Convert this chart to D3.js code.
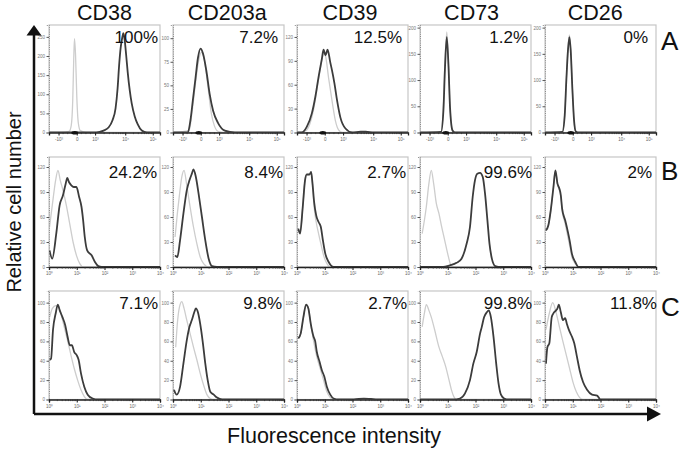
<!DOCTYPE html>
<html><head><meta charset="utf-8">
<script src="https://cdn.jsdelivr.net/npm/d3@7"></script>
<style>
body{margin:0;background:#fff}
svg{display:block}
text{font-family:"Liberation Sans",Arial,Helvetica,sans-serif}
</style>
</head><body>
<svg id="c" width="685" height="449"></svg>
<script>
// ---------- data ----------
const markers = ["CD38","CD203a","CD39","CD73","CD26"];
const rowLabels = ["A","B","C"];
const pctA = ["100%","7.2%","12.5%","1.2%","0%"];
const pctB = ["24.2%","8.4%","2.7%","99.6%","2%"];
const pctC = ["7.1%","9.8%","2.7%","99.8%","11.8%"];

const yTicksA = [[0,50,100,150,200,250],[0,25,50,75,100],[0,30,60,90,120],[0,50,100,150,200],[0,50,100,150,200]];
const yMaxA = [281,114,135,205,205];
const yTicksB = [0,30,60,90,120];
const yMaxB = 132;
const yTicksC = [0,20,40,60,80,100];
const yMaxC = 112;

const xTickLabelsA = ["-10³","0","10³","10⁴","10⁵"];
const xTickChA = [88,256,425,703,957];
const xTickLabelsBC = ["10⁰","10¹","10²","10³","10⁴"];
const xTickChBC = [0,256,512,768,1024];

// histograms: [channel, count]; ctrl = light grey, stain = dark
const A_CD38_ctrl = [[0,0],[112,0],[186,3],[205,18],[219,84],[228,190],[235,245],[245,202],[256,97],[270,26],[289,5],[344,0],[1024,0]];
const A_CD38_stain = [[0,0],[437,0],[503,5],[549,13],[586,32],[614,63],[633,116],[647,176],[661,221],[675,247],[686,260],[698,242],[712,202],[726,158],[745,110],[763,76],[791,42],[819,21],[856,5],[903,0],[1024,0]];
const A_CD203a_ctrl = [[0,0],[149,2],[177,23],[205,50],[233,74],[261,85],[289,77],[323,48],[354,20],[382,7],[419,1],[490,0],[1024,0]];
const A_CD203a_stain = [[0,0],[137,0],[161,13],[183,34],[208,58],[230,79],[254,89],[276,84],[307,66],[338,41],[370,23],[416,10],[478,2],[571,0],[1024,0]];
const A_CD39_ctrl = [[0,0],[62,1],[90,3],[152,28],[198,66],[230,91],[245,100],[263,96],[291,69],[323,40],[354,15],[385,3],[419,0],[1024,0]];
const A_CD39_stain = [[0,0],[44,0],[90,7],[137,24],[168,44],[198,69],[230,93],[245,104],[263,97],[282,104],[307,88],[323,78],[345,62],[370,40],[400,19],[447,5],[509,0],[587,1],[633,1],[708,0],[1024,0]];
const A_CD73_ctrl = [[0,0],[190,0],[214,40],[230,130],[247,192],[264,125],[279,42],[300,4],[324,0],[1024,0]];
const A_CD73_stain = [[0,0],[194,1],[216,42],[231,126],[247,182],[263,126],[277,48],[300,4],[324,0],[1024,0]];
const A_CD26_ctrl = [[0,0],[158,0],[182,34],[197,102],[212,160],[225,186],[237,160],[253,82],[268,24],[284,2],[312,0],[1024,0]];
const A_CD26_stain = [[0,0],[160,1],[182,33],[197,100],[212,157],[225,182],[237,157],[253,81],[268,23],[284,2],[312,0],[1024,0]];

const B_CD38_ctrl = [[5,48],[36,80],[61,104],[83,116],[104,104],[129,92],[160,74],[191,52],[222,30],[253,14],[284,4],[315,0],[1024,0]];
const B_CD38_stain = [[5,20],[30,10],[67,40],[98,74],[129,86],[154,100],[169,107],[184,102],[206,98],[228,96],[253,96],[278,84],[300,72],[315,56],[330,36],[352,20],[393,14],[424,6],[455,1],[486,0],[1024,0]];
const B_CD203a_ctrl = [[19,36],[40,64],[59,86],[81,108],[102,116],[127,98],[158,72],[189,48],[220,28],[251,12],[282,4],[329,0],[1024,0]];
const B_CD203a_stain = [[19,14],[40,12],[65,32],[96,64],[127,92],[152,104],[174,112],[189,117],[211,108],[236,88],[267,60],[298,32],[329,10],[360,1],[406,0],[1024,0]];
const B_CD39_ctrl = [[12,46],[28,40],[53,72],[74,104],[90,111],[115,111],[130,114],[143,100],[158,72],[177,54],[199,40],[220,28],[245,14],[276,4],[307,0],[1024,0]];
const B_CD39_stain = [[12,46],[28,40],[53,72],[74,104],[90,111],[115,111],[130,114],[143,100],[158,78],[177,62],[199,54],[220,48],[239,32],[261,16],[292,6],[338,0],[1024,0]];
const B_CD73_ctrl = [[20,40],[58,72],[82,100],[104,116],[126,100],[151,76],[175,64],[197,50],[228,32],[259,14],[290,1],[321,0],[1024,0]];
const B_CD73_stain = [[0,0],[213,0],[275,2],[337,5],[383,10],[430,28],[461,48],[486,84],[507,104],[529,112],[554,113],[579,108],[600,88],[622,56],[641,28],[663,10],[694,1],[725,0],[1024,0]];
const B_CD26_ctrl = [[9,44],[31,50],[53,68],[78,96],[96,116],[115,100],[133,92],[146,84],[158,68],[186,52],[208,38],[227,26],[248,12],[279,4],[310,0],[1024,0]];
const B_CD26_stain = [[9,44],[31,50],[53,68],[78,96],[96,116],[115,100],[133,94],[146,86],[158,70],[186,56],[208,44],[227,32],[248,16],[279,6],[310,0],[1024,0]];

const C_CD38_ctrl = [[6,85],[31,94],[62,97],[87,96],[109,89],[140,75],[171,61],[202,46],[233,32],[264,20],[295,10],[326,3],[357,0],[1024,0]];
const C_CD38_stain = [[6,41],[19,42],[37,72],[62,89],[81,98],[99,92],[124,85],[149,77],[171,65],[192,56],[211,56],[233,49],[254,46],[273,41],[295,27],[326,13],[357,5],[403,1],[450,0],[1024,0]];
const C_CD203a_ctrl = [[25,54],[43,82],[65,98],[81,101],[102,94],[127,82],[158,68],[189,54],[220,41],[251,27],[282,15],[313,5],[344,1],[376,0],[1024,0]];
const C_CD203a_stain = [[9,10],[34,5],[65,13],[96,37],[127,61],[152,75],[174,82],[196,90],[211,94],[230,90],[251,78],[276,58],[298,37],[320,20],[344,8],[376,5],[406,2],[453,0],[1024,0]];
const C_CD39_ctrl = [[12,63],[34,68],[59,85],[84,98],[105,94],[127,78],[152,61],[183,44],[214,32],[245,20],[276,8],[307,2],[338,0],[1024,0]];
const C_CD39_stain = [[12,63],[34,68],[59,85],[84,98],[105,94],[127,78],[152,65],[168,60],[183,49],[208,39],[230,30],[251,24],[276,13],[307,5],[338,1],[385,0],[524,0],[617,1],[683,0.5],[742,0],[1024,0]];
const C_CD73_ctrl = [[20,75],[42,90],[58,98],[82,92],[104,85],[135,72],[175,54],[207,44],[237,34],[268,20],[290,10],[312,3],[337,0],[1024,0]];
const C_CD73_stain = [[0,0],[306,0],[368,1],[414,6],[461,20],[492,37],[523,49],[554,68],[570,75],[591,85],[616,90],[635,92],[654,85],[678,65],[703,37],[724,17],[747,5],[777,1],[817,0],[1024,0]];
const C_CD26_ctrl = [[9,72],[40,89],[71,100],[102,90],[133,75],[165,60],[196,46],[227,32],[258,18],[289,8],[320,2],[351,0],[1024,0]];
const C_CD26_stain = [[9,37],[22,54],[40,58],[62,85],[84,90],[102,92],[115,94],[127,98],[146,90],[165,82],[186,84],[202,78],[227,70],[248,65],[270,58],[295,44],[320,30],[351,18],[388,10],[434,5],[481,4],[512,0],[1024,0]];

const zeroClusterCh = 238;

// ---------- layout ----------
const colLeft = [49,173,297,420,545];
const panelW = 111;
const rowTop = [25,157,291];
const rowBottom = [132.5,267,399.5];
const pctBaseline = [43,177.5,309];
const pctInset = [[2,6,6,3,8],[3,1,2,-1,4],[2,2,1,-1,-1]];
const rowLabelBaseline = [50,180,316];

const curves = [
  [[A_CD38_ctrl,A_CD38_stain],[A_CD203a_ctrl,A_CD203a_stain],[A_CD39_ctrl,A_CD39_stain],[A_CD73_ctrl,A_CD73_stain],[A_CD26_ctrl,A_CD26_stain]],
  [[B_CD38_ctrl,B_CD38_stain],[B_CD203a_ctrl,B_CD203a_stain],[B_CD39_ctrl,B_CD39_stain],[B_CD73_ctrl,B_CD73_stain],[B_CD26_ctrl,B_CD26_stain]],
  [[C_CD38_ctrl,C_CD38_stain],[C_CD203a_ctrl,C_CD203a_stain],[C_CD39_ctrl,C_CD39_stain],[C_CD73_ctrl,C_CD73_stain],[C_CD26_ctrl,C_CD26_stain]]
];
const pcts = [pctA,pctB,pctC];

const svg = d3.select("#c");
const defs = svg.append("defs");

rowLabels.forEach((rl, ri) => {
  markers.forEach((m, ci) => {
    const x0 = colLeft[ci], y0 = rowTop[ri], h = rowBottom[ri] - rowTop[ri];
    const g = svg.append("g").attr("transform", `translate(${x0},${y0})`);
    const x = d3.scaleLinear().domain([0,1024]).range([0,panelW]);
    const yMax = ri === 0 ? yMaxA[ci] : (ri === 1 ? yMaxB : yMaxC);
    const yTicks = ri === 0 ? yTicksA[ci] : (ri === 1 ? yTicksB : yTicksC);
    const y = d3.scaleLinear().domain([0,yMax]).range([h,0]);

    // frame
    g.append("rect").attr("x",0).attr("y",0).attr("width",panelW).attr("height",h)
      .attr("fill","none").attr("stroke","#c6c6c6").attr("stroke-width",1.2);

    const cid = `clip${ri}${ci}`;
    defs.append("clipPath").attr("id",cid).append("rect")
      .attr("x",0).attr("y",-2).attr("width",panelW).attr("height",h+2);

    const line = d3.line().x(d => x(d[0])).y(d => y(d[1])).curve(d3.curveMonotoneX);
    const [ctrl, stain] = curves[ri][ci];
    const cg = g.append("g").attr("clip-path",`url(#${cid})`);
    cg.append("path").datum(ctrl).attr("d",line).attr("fill","none")
      .attr("stroke","#cdcdcd").attr("stroke-width",1.3);
    cg.append("path").datum(stain).attr("d",line).attr("fill","none")
      .attr("stroke","#3c3c3c").attr("stroke-width",1.8).attr("stroke-linejoin","round");

    // y axis
    const ya = g.append("g").call(d3.axisLeft(y).tickValues(yTicks).tickSize(2.5).tickPadding(1.5));
    ya.select(".domain").attr("stroke","#8a8a8a").attr("stroke-dasharray","1,1.2").attr("stroke-width",1);
    ya.selectAll(".tick line").attr("stroke","#555").attr("stroke-width",1);
    ya.selectAll("text").attr("font-size",4.5).attr("fill","#777").attr("font-family","Liberation Sans, Arial");

    // x axis
    const xCh = ri === 0 ? xTickChA : xTickChBC;
    const xLab = ri === 0 ? xTickLabelsA : xTickLabelsBC;
    const xa = g.append("g").attr("transform",`translate(0,${h})`)
      .call(d3.axisBottom(x).tickValues(xCh).tickFormat((d,i) => xLab[i]).tickSize(3).tickPadding(2));
    xa.select(".domain").attr("stroke","#222").attr("stroke-width",1.3);
    xa.selectAll(".tick line").attr("stroke","#222").attr("stroke-width",1.1);
    xa.selectAll("text").attr("font-size",4.5).attr("fill","#666").attr("font-family","Liberation Sans, Arial");

    // minor ticks
    let minor = [];
    if (ri === 0) {
      for (let k = 2; k <= 9; k++) {
        minor.push(xTickChA[2] + Math.log10(k) * (xTickChA[3] - xTickChA[2]));
        minor.push(xTickChA[3] + Math.log10(k) * (xTickChA[4] - xTickChA[3]));
      }
      [1,2,3].forEach(k => minor.push(xTickChA[0] + k * (xTickChA[1] - xTickChA[0]) / 4));
      [1,2,3].forEach(k => minor.push(xTickChA[1] + k * (xTickChA[2] - xTickChA[1]) / 4));
    } else {
      for (let dcd = 0; dcd < 4; dcd++)
        for (let k = 2; k <= 9; k++) minor.push(xTickChBC[dcd] + Math.log10(k) * 256);
    }
    g.append("g").selectAll("line").data(minor).join("line")
      .attr("x1",d => x(d)).attr("x2",d => x(d)).attr("y1",h).attr("y2",h+1.6)
      .attr("stroke","#333").attr("stroke-width",0.8);

    if (ri === 0) {
      g.append("ellipse").attr("cx",x(zeroClusterCh)).attr("cy",h+0.3)
        .attr("rx",3.4).attr("ry",1.8).attr("fill","#111");
    }

    // percentage
    svg.append("text").attr("x", x0 + panelW - pctInset[ri][ci]).attr("y", pctBaseline[ri])
      .attr("text-anchor","end").attr("font-size",17).attr("fill","#111").text(pcts[ri][ci]);

    // column titles
    if (ri === 0) {
      svg.append("text").attr("x", x0 + panelW/2 - ci*1.3).attr("y",19.5)
        .attr("text-anchor","middle").attr("font-size",21.5).attr("fill","#111").text(m);
    }
  });
  svg.append("text").attr("x",661).attr("y",rowLabelBaseline[ri])
    .attr("font-size",26).attr("fill","#111").text(rl);
});

// big axes arrows
const ax = svg.append("g").attr("stroke","#111").attr("stroke-width",2.5).attr("fill","none");
ax.append("path").attr("d","M34,414 L34,33");
ax.append("path").attr("d","M34,414 L648,414");
svg.append("path").attr("d","M34,25 L26.5,35.5 L41.5,35.5 Z").attr("fill","#111");
svg.append("path").attr("d","M661,414 L647,406.5 L647,421.5 Z").attr("fill","#111");

svg.append("text").attr("transform","translate(21,202) rotate(-90)")
  .attr("text-anchor","middle").attr("font-size",20).attr("fill","#111").text("Relative cell number");
svg.append("text").attr("x",334).attr("y",443)
  .attr("text-anchor","middle").attr("font-size",21.5).attr("fill","#111").text("Fluorescence intensity");
</script>
</body></html>
